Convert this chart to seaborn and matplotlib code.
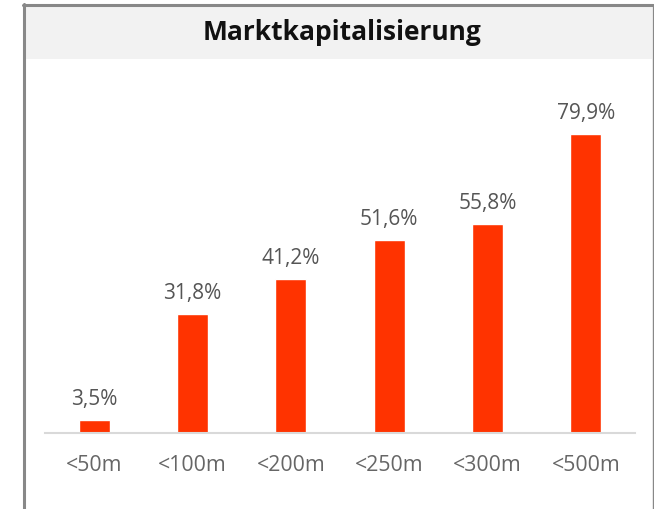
import matplotlib
matplotlib.use("Agg")
import matplotlib.pyplot as plt
import seaborn as sns
import pandas as pd
from matplotlib.patches import Rectangle
from matplotlib.lines import Line2D

categories = ["<50m", "<100m", "<200m", "<250m", "<300m", "<500m"]
values = [3.5, 31.8, 41.2, 51.6, 55.8, 79.9]
labels = ["3,5%", "31,8%", "41,2%", "51,6%", "55,8%", "79,9%"]
title = "Marktkapitalisierung"

sns.set_theme(style="white")
plt.rcParams["font.family"] = ["Open Sans", "DejaVu Sans"]

W, H = 654, 510
fig = plt.figure(figsize=(W / 100, H / 100), dpi=100)
fig.patch.set_facecolor("white")

# title bar
fig.patches.append(Rectangle((25 / W, 1 - 60 / H), (652 - 25) / W, (60 - 7) / H,
                             transform=fig.transFigure, facecolor="#f2f2f2",
                             edgecolor="none", zorder=0))
# borders
fig.lines.append(Line2D([23.5 / W, 23.5 / W], [0, 1 - 5 / H], transform=fig.transFigure,
                        color="#888888", linewidth=2.2))
fig.lines.append(Line2D([22.5 / W, 653 / W], [1 - 6 / H, 1 - 6 / H], transform=fig.transFigure,
                        color="#888888", linewidth=2.2))
fig.lines.append(Line2D([652.5 / W, 652.5 / W], [0, 1 - 6 / H], transform=fig.transFigure,
                        color="#888888", linewidth=1.0))

fig.text(342 / W, 1 - 33 / H, title, ha="center", va="center", fontsize=19,
         fontweight="bold", color="#111111")

ax = fig.add_axes([45 / W, 1 - 434 / H, (635 - 45) / W, (434 - 65) / H])
df = pd.DataFrame({"cat": categories, "val": values})
sns.barplot(data=df, x="cat", y="val", color="#ff3300", width=0.315, saturation=1,
            ax=ax)
ax.set_ylim(0, 98.6)
ax.set_xlim(-0.5, len(categories) - 0.5)
ax.bar_label(ax.containers[0], labels=labels, padding=8, fontsize=15, color="#555555")
ax.set_xlabel("")
ax.set_ylabel("")
ax.set_yticks([])
for s in ["top", "right", "left"]:
    ax.spines[s].set_visible(False)
ax.spines["bottom"].set_color("#d9d9d9")
ax.spines["bottom"].set_linewidth(1.5)
ax.tick_params(axis="x", length=0, pad=15, labelsize=15.3, labelcolor="#666666")
ax.set_facecolor("none")

fig.savefig("out.png", dpi=100)
